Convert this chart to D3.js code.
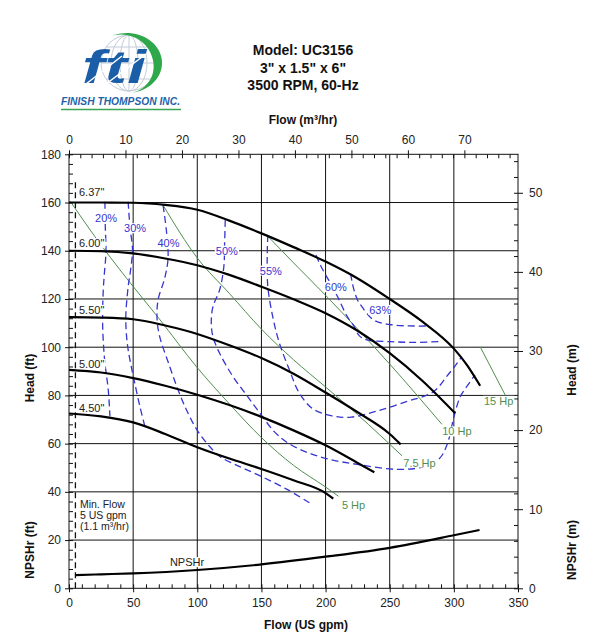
<!DOCTYPE html>
<html>
<head>
<meta charset="utf-8">
<script src="https://cdn.jsdelivr.net/npm/d3@7"></script>
<style>
  body { margin: 0; background: #fff; }
  svg { font-family: "Liberation Sans", Arial, sans-serif; }
</style>
</head>
<body>
<script>
// ---- Axis ticks ----
const flowTicks = [0, 50, 100, 150, 200, 250, 300, 350];
const headTicks = [0, 20, 40, 60, 80, 100, 120, 140, 160, 180];
const m3Ticks = [0, 10, 20, 30, 40, 50, 60, 70];
const meterTicks = [0, 10, 20, 30, 40, 50];

// ---- Impeller curves [US gpm, ft] ----
const impNames = ['6.37"', '6.00"', '5.50"', '5.00"', '4.50"'];
const imp637 = [[0, 160], [25, 160], [50, 159.9], [75, 159], [100, 157], [125, 152.5], [150, 147.2],
  [175, 141.5], [200, 135.5], [225, 128.5], [250, 120], [275, 110.8], [300, 99.4], [310, 92.8], [320.5, 84]];
const imp600 = [[0, 140], [25, 139.8], [50, 138.9], [75, 136.8], [100, 134], [125, 130], [150, 125.1],
  [175, 119.9], [200, 114.1], [225, 106.8], [250, 97.5], [275, 86.3], [301, 72.6]];
const imp550 = [[0, 112.5], [25, 112.3], [50, 111.6], [75, 109], [100, 105.5], [125, 100.8], [150, 95.5],
  [175, 89], [200, 81.2], [225, 73], [250, 64], [258.5, 59.7]];
const imp500 = [[0, 90.6], [25, 89.5], [50, 87.2], [75, 84], [100, 80.3], [125, 76], [150, 71.1],
  [175, 65.5], [200, 59.3], [225, 52], [238, 48.1]];
const imp450 = [[0, 72.5], [25, 71.3], [50, 68.8], [75, 64], [100, 58.5], [125, 53.8], [150, 49.5],
  [175, 44.8], [200, 39.5], [206, 37.2]];
const impLabelFt = [164.5, 143.1, 115.4, 93, 74.7];

const npshr = [[5, 5.5], [25, 5.8], [50, 6.2], [100, 7.6], [150, 9.9], [200, 13.1], [250, 16.8], [300, 22], [320, 24.2]];

// ---- Efficiency contours ----
const effNames = ['20%', '30%', '40%', '50%', '55%', '60%', '63%'];
const eff20 = [[28, 160.3], [28.3, 150], [28.8, 139.6], [27.5, 130], [26.7, 123.7], [26.2, 110], [27, 100],
  [28, 93.4], [30.6, 82.3], [31.9, 71.3]];
const eff30 = [[46.1, 160.3], [47.5, 150], [49.5, 140.3], [48, 132], [46.1, 125], [44.3, 113], [44.8, 105],
  [46.1, 99], [48.5, 92], [51.3, 85], [55, 76], [59.1, 67.2]];
const eff40 = [[73.3, 158.9], [76, 148], [77.2, 136.8], [74.6, 128.6], [69.4, 119.6], [68.7, 111.3], [70.7, 104.4],
  [78.5, 92], [85, 82.3], [92, 73.5], [100, 65.5], [108.7, 59.4], [117.8, 54.6], [133, 50.5], [150, 46.4],
  [170, 41], [188, 35.3]];
const eff50 = [[121.8, 152.7], [121.3, 143], [120.7, 133.4], [117.4, 123.7], [112.2, 116.8], [110.9, 110],
  [112.2, 104.4], [117.4, 97.5], [127.7, 87.9], [138.3, 80.2], [149, 72.5], [160, 65], [170, 60.5], [185, 56.5],
  [202, 53.6], [226, 51.3], [256, 49.3], [276, 50.4], [289, 54], [295, 60], [300, 71], [305, 79.5], [310, 83.6], [316.5, 88.5]];
const eff55 = [[155, 146.5], [154.5, 138], [155, 125.1], [158.8, 112.7], [164, 101.7], [171.8, 90.6], [179.5, 81],
  [189.9, 74.5], [205, 71.5], [220, 71], [240, 73.5], [263, 77.4], [284, 81.5], [294.6, 88], [302, 93], [306, 96]];
const eff60 = [[192.5, 138.2], [196, 134], [200, 130], [205, 125.5], [209.3, 121], [216.6, 113], [222.3, 108.6],
  [226.2, 104.8], [232.2, 103], [250.4, 102.3], [270, 102], [291, 102.4]];
const eff63 = [[219.5, 130.5], [222, 124], [225, 119.5], [228.3, 116.8], [237.4, 111.3], [253, 109.2], [280.3, 108.8]];
const effLabelAt = [[28.9, 153.5], [51.5, 149.3], [77.5, 143.3], [123, 140], [157.3, 131.7], [208, 124.8], [242.6, 115.4]];

// ---- Power lines ----
const hpNames = ['5 Hp', '7.5 Hp', '10 Hp', '15 Hp'];
const hp5 = [[1, 160.5], [20, 146], [45, 128.5], [70, 112], [100, 91.5], [125, 76.5], [150, 62.5],
  [175, 51], [200, 42], [210, 38.2]];
const hp75 = [[73.3, 158.9], [100, 137], [125, 122.3], [150, 107.5], [175, 94.8], [200, 83.5], [225, 72], [259.5, 55]];
const hp10 = [[155, 146], [175, 135], [200, 121.5], [225, 107.5], [250, 93], [290.7, 68]];
const hp15 = [[320.5, 100.2], [340, 80.2]];
const hpLabelAt = [[221.8, 34.3], [273.2, 52.1], [302.4, 65], [334.9, 77.7]];

const minFlow = 5;
const minFlowTop = 170;
const minFlowText = ['Min. Flow', '5 US gpm', '(1.1 m\u00b3/hr)'];

const titleLines = ['Model: UC3156', '3" x 1.5" x 6"', '3500 RPM, 60-Hz'];

// ---- Layout ----
const width = 600;
const height = 640;
const plotLeft = 69, plotRight = 518, plotTop = 154.3, plotBottom = 588.3;
const GPM_TO_M3 = 0.2271247;
const FT_TO_M = 0.3048;

const blue = '#3535cf';
const green = '#4f8f4f';
const ink = '#111';

const svg = d3.select('body').append('svg')
    .attr('width', width)
    .attr('height', height);

const x = d3.scaleLinear().domain([0, 350]).range([plotLeft, plotRight]);
const y = d3.scaleLinear().domain([0, 180]).range([plotBottom, plotTop]);
const xm = d3.scaleLinear().domain([0, 350 * GPM_TO_M3]).range([plotLeft, plotRight]);
const ym = d3.scaleLinear().domain([0, 180 * FT_TO_M]).range([plotBottom, plotTop]);

// ---- Logo ----
const logo = svg.append('g');
const gc = [129, 63], gr = 28;
const globe = logo.append('g')
    .attr('fill', 'none')
    .attr('stroke', '#c3ccd8')
    .attr('stroke-width', 1);
globe.append('circle').attr('cx', gc[0]).attr('cy', gc[1]).attr('r', gr);
[9, 18].forEach((rx) => {
  globe.append('ellipse').attr('cx', gc[0]).attr('cy', gc[1]).attr('rx', rx).attr('ry', gr);
});
globe.append('line').attr('x1', gc[0]).attr('x2', gc[0]).attr('y1', gc[1] - gr).attr('y2', gc[1] + gr);
[-16, 0, 16].forEach((dy) => {
  const half = Math.sqrt(gr * gr - dy * dy);
  globe.append('line')
      .attr('x1', gc[0] - half).attr('x2', gc[0] + half)
      .attr('y1', gc[1] + dy).attr('y2', gc[1] + dy);
});

// green crescent round the globe
const cc = [127, 63], crx = 35, cry = 30;
const a1 = -115 * Math.PI / 180, a2 = 82 * Math.PI / 180;
const outerPts = d3.range(0, 41).map((i) => {
  const a = a1 + (a2 - a1) * i / 40;
  return [cc[0] + crx * Math.cos(a), cc[1] + cry * Math.sin(a)];
});
const innerPts = d3.range(40, -1, -1).map((i) => {
  const a = a1 + (a2 - a1) * i / 40;
  const t = 9 * Math.pow(Math.sin(Math.PI * i / 40), 1.3);
  return [cc[0] + (crx - t) * Math.cos(a), cc[1] + (cry - t * 0.8) * Math.sin(a)];
});
logo.append('path')
    .attr('d', 'M' + outerPts.concat(innerPts).join('L') + 'Z')
    .attr('fill', '#2ea84a');

logo.append('text')
    .attr('x', 82)
    .attr('y', 83)
    .attr('textLength', 64)
    .attr('lengthAdjust', 'spacingAndGlyphs')
    .attr('font-size', 46)
    .attr('font-weight', 'bold')
    .attr('font-style', 'italic')
    .attr('fill', '#1a5ea8')
    .text('fti');
[[86, 84, 122, 56], [106, 84, 146, 54]].forEach((l) => {
  logo.append('line')
      .attr('x1', l[0]).attr('y1', l[1]).attr('x2', l[2]).attr('y2', l[3])
      .attr('stroke', '#fff').attr('stroke-width', 1.5);
});
logo.append('text')
    .attr('x', 61)
    .attr('y', 105)
    .attr('textLength', 119)
    .attr('lengthAdjust', 'spacingAndGlyphs')
    .attr('font-size', 11)
    .attr('font-weight', 'bold')
    .attr('font-style', 'italic')
    .attr('fill', '#1f63a8')
    .text('FINISH THOMPSON INC.');
logo.append('line')
    .attr('x1', 61).attr('x2', 181).attr('y1', 109.5).attr('y2', 109.5)
    .attr('stroke', '#3aa655').attr('stroke-width', 1.5);

// ---- Titles ----
svg.selectAll('.title')
    .data(titleLines)
  .enter().append('text')
    .attr('class', 'title')
    .attr('x', 303)
    .attr('y', (d, i) => 55 + i * 17.5)
    .attr('text-anchor', 'middle')
    .attr('font-size', 14)
    .attr('font-weight', 'bold')
    .attr('fill', ink)
    .text((d) => d);

// ---- Grid ----
const grid = svg.append('g').attr('stroke', '#111').attr('stroke-width', 1);
grid.selectAll('.vg')
    .data(flowTicks.slice(1, -1))
  .enter().append('line')
    .attr('x1', (d) => x(d)).attr('x2', (d) => x(d))
    .attr('y1', plotTop).attr('y2', plotBottom);
grid.selectAll('.hg')
    .data(headTicks.slice(1, -1))
  .enter().append('line')
    .attr('y1', (d) => y(d)).attr('y2', (d) => y(d))
    .attr('x1', plotLeft).attr('x2', plotRight);

svg.append('rect')
    .attr('x', plotLeft).attr('y', plotTop)
    .attr('width', plotRight - plotLeft).attr('height', plotBottom - plotTop)
    .attr('fill', 'none').attr('stroke', '#111').attr('stroke-width', 1);

// ---- Axes ----
function styleAxis(g, labels) {
  g.select('.domain').remove();
  g.selectAll('line').attr('stroke', '#111');
  g.selectAll('text')
      .attr('font-size', 12)
      .attr('fill', '#222')
      .attr('font-family', '"Liberation Sans", Arial, sans-serif');
  if (!labels) g.selectAll('text').remove();
}

svg.append('g')
    .attr('transform', `translate(0,${plotBottom})`)
    .call(d3.axisBottom(x).tickValues(flowTicks).tickSize(4).tickPadding(6))
    .call(styleAxis, true);
svg.append('g')
    .attr('transform', `translate(0,${plotBottom})`)
    .call(d3.axisTop(x).tickValues(d3.range(0, 351, 10)).tickSize(4))
    .call(styleAxis, false);

svg.append('g')
    .attr('transform', `translate(${plotLeft},0)`)
    .call(d3.axisLeft(y).tickValues(headTicks).tickSize(4).tickPadding(4))
    .call(styleAxis, true);
svg.append('g')
    .attr('transform', `translate(${plotLeft},0)`)
    .call(d3.axisRight(y).tickValues(d3.range(0, 181, 4)).tickSize(4))
    .call(styleAxis, false);

svg.append('g')
    .attr('transform', `translate(0,${plotTop})`)
    .call(d3.axisTop(xm).tickValues(m3Ticks).tickSize(4).tickPadding(6))
    .call(styleAxis, true);
svg.append('g')
    .attr('transform', `translate(0,${plotTop})`)
    .call(d3.axisBottom(xm).tickValues(d3.range(0, 80, 2)).tickSize(4))
    .call(styleAxis, false);

svg.append('g')
    .attr('transform', `translate(${plotRight},0)`)
    .call(d3.axisRight(ym).tickValues(meterTicks).tickSize(5).tickPadding(6))
    .call(styleAxis, true);
svg.append('g')
    .attr('transform', `translate(${plotRight},0)`)
    .call(d3.axisLeft(ym).tickValues(d3.range(0, 55, 2)).tickSize(4))
    .call(styleAxis, false);

// axis titles
const axisTitles = [
  { t: 'Flow (m\u00b3/hr)', x: 303, y: 124, r: 0 },
  { t: 'Flow (US gpm)', x: 306, y: 629, r: 0 },
  { t: 'Head (ft)', x: 34, y: 378, r: -90 },
  { t: 'NPSHr (ft)', x: 34, y: 550, r: -90 },
  { t: 'Head (m)', x: 576, y: 370, r: -90 },
  { t: 'NPSHr (m)', x: 576, y: 550, r: -90 },
];
svg.selectAll('.axt')
    .data(axisTitles)
  .enter().append('text')
    .attr('class', 'axt')
    .attr('transform', (d) => `translate(${d.x},${d.y}) rotate(${d.r})`)
    .attr('text-anchor', 'middle')
    .attr('font-size', 12)
    .attr('font-weight', 'bold')
    .attr('fill', ink)
    .text((d) => d.t);

// ---- Curves ----
const smooth = d3.line()
    .x((d) => x(d[0]))
    .y((d) => y(d[1]))
    .curve(d3.curveCatmullRom.alpha(0.5));
const monotone = d3.line()
    .x((d) => x(d[0]))
    .y((d) => y(d[1]))
    .curve(d3.curveMonotoneX);

const plot = svg.append('g');

// min flow line
plot.append('line')
    .attr('x1', x(minFlow)).attr('x2', x(minFlow))
    .attr('y1', y(0)).attr('y2', y(minFlowTop))
    .attr('stroke', '#111').attr('stroke-width', 1.3)
    .attr('stroke-dasharray', '6,4');

// power lines
plot.selectAll('.hp')
    .data([hp5, hp75, hp10, hp15])
  .enter().append('path')
    .attr('class', 'hp')
    .attr('d', monotone)
    .attr('fill', 'none')
    .attr('stroke', green)
    .attr('stroke-width', 1);

// efficiency contours
plot.selectAll('.eff')
    .data([eff20, eff30, eff40, eff50, eff55, eff60, eff63])
  .enter().append('path')
    .attr('class', 'eff')
    .attr('d', smooth)
    .attr('fill', 'none')
    .attr('stroke', blue)
    .attr('stroke-width', 1.3)
    .attr('stroke-dasharray', '7,4');

// impeller curves and NPSHr
plot.selectAll('.imp')
    .data([imp637, imp600, imp550, imp500, imp450, npshr])
  .enter().append('path')
    .attr('class', 'imp')
    .attr('d', monotone)
    .attr('fill', 'none')
    .attr('stroke', '#000')
    .attr('stroke-width', 2.2);

// ---- Labels with white backing ----
function boxedLabel(text, px, py, fill, anchor) {
  const g = svg.append('g');
  const t = g.append('text')
      .attr('x', px)
      .attr('y', py)
      .attr('dy', '0.35em')
      .attr('text-anchor', anchor || 'middle')
      .attr('font-size', 11)
      .attr('fill', fill)
      .text(text);
  const b = t.node().getBBox();
  g.insert('rect', () => t.node())
      .attr('x', b.x - 1).attr('y', b.y + 1)
      .attr('width', b.width + 2).attr('height', b.height - 2)
      .attr('fill', '#fff');
}

effNames.forEach((n, i) => boxedLabel(n, x(effLabelAt[i][0]), y(effLabelAt[i][1]), blue));
hpNames.forEach((n, i) => boxedLabel(n, x(hpLabelAt[i][0]), y(hpLabelAt[i][1]), green));
impNames.forEach((n, i) => boxedLabel(n, x(7.8), y(impLabelFt[i]), '#222', 'start'));
boxedLabel('NPSHr', x(92), y(10.8), '#222');

svg.selectAll('.minf')
    .data(minFlowText)
  .enter().append('text')
    .attr('class', 'minf')
    .attr('x', x(8.5))
    .attr('y', (d, i) => y(34.8) + i * 11)
    .attr('dy', '0.35em')
    .attr('font-size', 10.5)
    .attr('fill', '#222')
    .text((d) => d);
</script>
</body>
</html>
